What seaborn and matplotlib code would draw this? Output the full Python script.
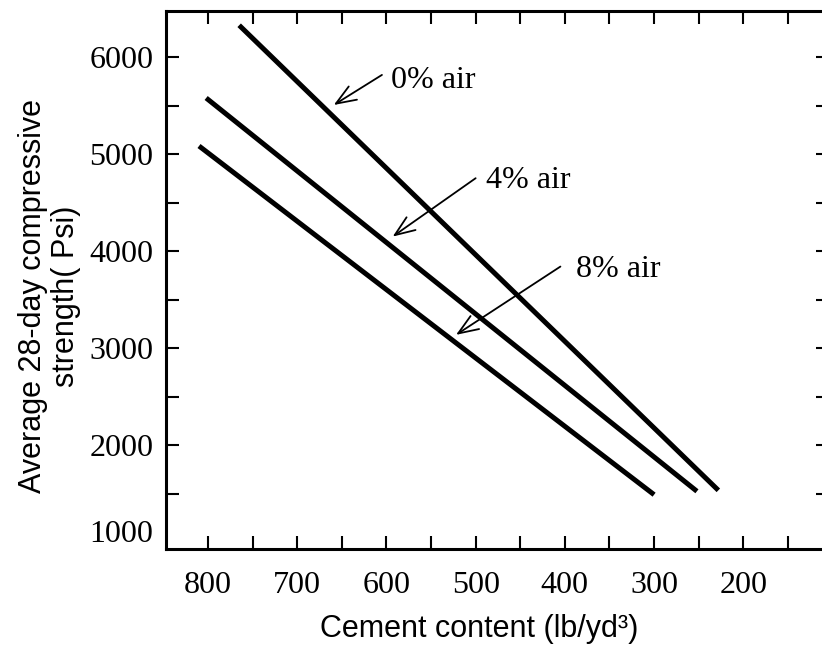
import matplotlib
matplotlib.use("Agg")
import matplotlib.pyplot as plt
import matplotlib.transforms as mtransforms
from matplotlib.ticker import MultipleLocator, FixedLocator
import seaborn as sns
import pandas as pd

# ---- data ----
air_labels = ["0% air", "4% air", "8% air"]
cement_0 = [765, 228]
strength_0 = [6330, 1535]
cement_4 = [802, 252]
strength_4 = [5580, 1525]
cement_8 = [810, 300]
strength_8 = [5085, 1490]

x_major = [800, 700, 600, 500, 400, 300, 200]
y_major = [1000, 2000, 3000, 4000, 5000, 6000]

# annotation anchors: (text position, arrow tail, arrow head)
ann_text = [(595, 5681), (488, 4650), (388, 3739)]
ann_tail = [(605, 5818), (500, 4753), (405, 3842)]
ann_head = [(659, 5508), (593, 4151), (522, 3138)]

df = pd.DataFrame({
    "cement": cement_0 + cement_4 + cement_8,
    "strength": strength_0 + strength_4 + strength_8,
    "air": [air_labels[0]] * 2 + [air_labels[1]] * 2 + [air_labels[2]] * 2,
})

sns.set_style("ticks")
plt.rcParams["lines.solid_capstyle"] = "butt"
plt.rcParams["text.color"] = "black"
plt.rcParams["axes.labelcolor"] = "black"
plt.rcParams["xtick.color"] = "black"
plt.rcParams["ytick.color"] = "black"
serif = ["Liberation Serif", "DejaVu Serif"]
sans = ["Liberation Sans", "DejaVu Sans"]

fig = plt.figure(figsize=(8.22, 6.54), dpi=100)
ax = fig.add_axes([166 / 822, 1 - 549 / 654, (829 - 166) / 822, (549 - 11) / 654])

sns.lineplot(data=df, x="cement", y="strength", hue="air",
             palette=["black"] * 3, linewidth=3.6, legend=False,
             estimator=None, sort=False, ax=ax)

ax.set_xlim(847, 104)
ax.set_ylim(930, 6477)

ax.xaxis.set_major_locator(FixedLocator(x_major))
ax.xaxis.set_minor_locator(MultipleLocator(50))
ax.yaxis.set_major_locator(FixedLocator(y_major))
ax.yaxis.set_minor_locator(MultipleLocator(500))
ax.set_xticklabels([str(v) for v in x_major], fontfamily=serif, fontsize=23, color="black")
ax.set_yticklabels([str(v) for v in y_major], fontfamily=serif, fontsize=23, color="black")

ax.tick_params(axis="both", which="both", direction="in", length=9.5, width=1.5,
               top=True, right=True, color="black")
ax.tick_params(axis="x", which="major", pad=16)
ax.tick_params(axis="y", which="major", pad=9)

# the 1000 label sits slightly above the bottom frame and has no tick mark
t1000 = ax.yaxis.get_major_ticks()[0]
t1000.tick1line.set_visible(False)
t1000.tick2line.set_visible(False)
lab = t1000.label1
lab.set_transform(lab.get_transform() +
                  mtransforms.ScaledTranslation(0, 11 / 100, fig.dpi_scale_trans))

for s in ax.spines.values():
    s.set_linewidth(2.2)
    s.set_color("black")

ax.set_xlabel("Cement content (lb/yd³)", fontfamily=sans, fontsize=22)
ax.xaxis.set_label_coords(0.472, -0.12)
ax.set_ylabel("Average 28-day compressive\nstrength( Psi)", fontfamily=sans,
              fontsize=22, linespacing=1.15)
ax.yaxis.set_label_coords(-0.128, 0.47)

for lab_txt, t, tail, head in zip(air_labels, ann_text, ann_tail, ann_head):
    ax.text(t[0], t[1], lab_txt, fontfamily=serif, fontsize=23, ha="left",
            va="baseline", color="black")
    ax.annotate("", xy=head, xytext=tail,
                arrowprops=dict(arrowstyle="->,head_length=0.9,head_width=0.35",
                                lw=1.3, color="black", shrinkA=0, shrinkB=0,
                                mutation_scale=16))

fig.savefig("out.png", dpi=100)
